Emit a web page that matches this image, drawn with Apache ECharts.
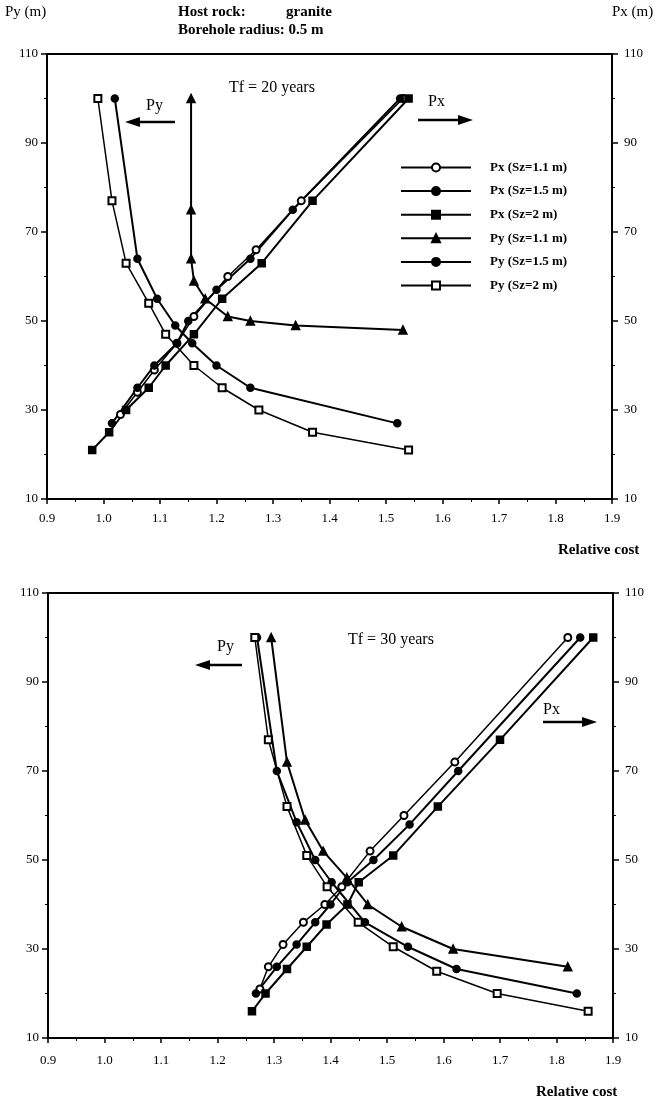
<!DOCTYPE html>
<html>
<head>
<meta charset="utf-8">
<script src="https://cdn.jsdelivr.net/npm/echarts@6/dist/echarts.min.js"></script>
<style>
  html, body { margin: 0; padding: 0; background: #fff; }
  #container { width: 664px; height: 1102px; }
</style>
</head>
<body>
<div id="container"></div>
<script>
// Tf = 20 years : [relative cost, distance (m)]
var px20_11 = [[1.03, 29], [1.06, 34], [1.09, 39], [1.13, 45], [1.16, 51], [1.22, 60], [1.27, 66], [1.35, 77], [1.53, 100]];
var px20_15 = [[1.015, 27], [1.06, 35], [1.09, 40], [1.13, 45], [1.15, 50], [1.20, 57], [1.26, 64], [1.335, 75], [1.525, 100]];
var px20_2 = [[0.98, 21], [1.01, 25], [1.04, 30], [1.08, 35], [1.11, 40], [1.16, 47], [1.21, 55], [1.28, 63], [1.37, 77], [1.54, 100]];
var py20_11 = [[1.155, 100], [1.155, 75], [1.155, 64], [1.16, 59], [1.18, 55], [1.22, 51], [1.26, 50], [1.34, 49], [1.53, 48]];
var py20_15 = [[1.02, 100], [1.06, 64], [1.095, 55], [1.127, 49], [1.157, 45], [1.20, 40], [1.26, 35], [1.52, 27]];
var py20_2 = [[0.99, 100], [1.015, 77], [1.04, 63], [1.08, 54], [1.11, 47], [1.16, 40], [1.21, 35], [1.275, 30], [1.37, 25], [1.54, 21]];

// Tf = 30 years
var px30_11 = [[1.275, 21], [1.29, 26], [1.316, 31], [1.352, 36], [1.39, 40], [1.42, 44], [1.47, 52], [1.53, 60], [1.62, 72], [1.82, 100]];
var px30_15 = [[1.268, 20], [1.305, 26], [1.34, 31], [1.373, 36], [1.40, 40], [1.43, 45], [1.476, 50], [1.54, 58], [1.626, 70], [1.842, 100]];
var px30_2 = [[1.261, 16], [1.285, 20], [1.323, 25.5], [1.358, 30.5], [1.393, 35.5], [1.43, 40], [1.45, 45], [1.511, 51], [1.59, 62], [1.70, 77], [1.865, 100]];
var py30_11 = [[1.295, 100], [1.323, 72], [1.355, 59], [1.387, 52], [1.429, 46], [1.466, 40], [1.526, 35], [1.617, 30], [1.82, 26]];
var py30_15 = [[1.27, 100], [1.305, 70], [1.34, 58.5], [1.373, 50], [1.402, 45], [1.461, 36], [1.537, 30.5], [1.623, 25.5], [1.836, 20]];
var py30_2 = [[1.266, 100], [1.29, 77], [1.323, 62], [1.358, 51], [1.394, 44], [1.449, 36], [1.511, 30.5], [1.588, 25], [1.695, 20], [1.856, 16]];

var seriesNames = ['Px (Sz=1.1 m)', 'Px (Sz=1.5 m)', 'Px (Sz=2 m)', 'Py (Sz=1.1 m)', 'Py (Sz=1.5 m)', 'Py (Sz=2 m)'];
var symbols = ['emptyCircle', 'circle', 'rect', 'triangle', 'circle', 'emptyRect'];
var widths = [1.5, 2, 2, 2, 2, 1.5];

var FONT = 'Liberation Serif';

var dom = document.getElementById('container');
var myChart = echarts.init(dom);

function makeSeries(i, data, grid) {
  var isPx = i < 3;
  return {
    name: seriesNames[i],
    type: 'line',
    xAxisIndex: grid,
    yAxisIndex: grid * 2 + (isPx ? 1 : 0),
    data: data,
    symbol: symbols[i],
    symbolSize: symbols[i] === 'triangle' ? 8 : 7,
    showAllSymbol: true,
    animation: false,
    lineStyle: { color: '#000', width: widths[i] },
    itemStyle: { color: '#000', borderColor: '#000', borderWidth: 1.5 },
    z: 3
  };
}

function xAxisFor(grid, margin) {
  return {
    gridIndex: grid,
    type: 'value',
    min: 0.9,
    max: 1.9,
    interval: 0.1,
    axisLine: { show: true, lineStyle: { color: '#000', width: 2 } },
    axisTick: { show: true, inside: false, length: 5, lineStyle: { color: '#000', width: 1.5 } },
    minorTick: { show: true, splitNumber: 2, length: 3, lineStyle: { color: '#000' } },
    splitLine: { show: false },
    axisLabel: {
      color: '#000', fontFamily: FONT, fontSize: 13, margin: margin,
      formatter: function (v) { return v.toFixed(1); }
    }
  };
}

function yAxisFor(grid, right) {
  return {
    gridIndex: grid,
    type: 'value',
    position: right ? 'right' : 'left',
    min: 10,
    max: 110,
    interval: 20,
    axisLine: { show: true, lineStyle: { color: '#000', width: 2 } },
    axisTick: { show: true, inside: false, length: 6, lineStyle: { color: '#000', width: 1.5 } },
    minorTick: { show: true, splitNumber: 2, length: 3, lineStyle: { color: '#000' } },
    splitLine: { show: false },
    axisLabel: { color: '#000', fontFamily: FONT, fontSize: 13, margin: right ? 12 : 9 }
  };
}

function arrow(x1, x2, y) {
  var dir = x2 > x1 ? 1 : -1;
  return {
    type: 'group',
    children: [
      { type: 'line', shape: { x1: x1, y1: y, x2: x2 - dir * 10, y2: y }, style: { stroke: '#000', lineWidth: 2.5 } },
      { type: 'polygon', shape: { points: [[x2, y], [x2 - dir * 15, y - 5], [x2 - dir * 15, y + 5]] }, style: { fill: '#000' } }
    ]
  };
}

// x, y = left edge and vertical centre of the text
function label(text, x, y, opts) {
  opts = opts || {};
  return {
    type: 'text',
    x: x,
    y: y,
    style: {
      text: text,
      fill: '#000',
      font: (opts.weight || 'normal') + ' ' + (opts.size || 15) + 'px "' + FONT + '"',
      align: 'left',
      verticalAlign: 'middle'
    }
  };
}

var series = [];
[px20_11, px20_15, px20_2, py20_11, py20_15, py20_2].forEach(function (d, i) { series.push(makeSeries(i, d, 0)); });
[px30_11, px30_15, px30_2, py30_11, py30_15, py30_2].forEach(function (d, i) { series.push(makeSeries(i, d, 1)); });

var option = {
  backgroundColor: '#fff',
  animation: false,
  grid: [
    { left: 47, right: 52, top: 54, height: 445, show: true, borderColor: '#000', borderWidth: 2 },
    { left: 48, right: 51, top: 593, height: 445, show: true, borderColor: '#000', borderWidth: 2 }
  ],
  legend: {
    data: seriesNames,
    orient: 'vertical',
    left: 395,
    top: 156,
    itemWidth: 70,
    itemHeight: 10,
    itemGap: 10.6,
    selectedMode: false,
    textStyle: { color: '#000', fontFamily: FONT, fontSize: 13, fontWeight: 'bold', lineHeight: 12, padding: [0, 0, 0, 14] }
  },
  xAxis: [xAxisFor(0, 13), xAxisFor(1, 16)],
  yAxis: [yAxisFor(0, false), yAxisFor(0, true), yAxisFor(1, false), yAxisFor(1, true)],
  series: series,
  graphic: [
    label('Py (m)', 5, 12, { size: 15 }),
    label('Px (m)', 612, 12, { size: 15 }),
    label('Host rock:', 178, 12, { size: 15, weight: 'bold' }),
    label('granite', 286, 12, { size: 15, weight: 'bold' }),
    label('Borehole radius: 0.5 m', 178, 30, { size: 15, weight: 'bold' }),
    label('Tf = 20 years', 229, 88, { size: 16 }),
    label('Py', 146, 106, { size: 16 }),
    arrow(175, 125, 122),
    label('Px', 428, 102, { size: 16 }),
    arrow(418, 473, 120),
    label('Relative cost', 558, 550, { size: 15, weight: 'bold' }),
    label('Tf = 30 years', 348, 640, { size: 16 }),
    label('Py', 217, 647, { size: 16 }),
    arrow(242, 195, 665),
    label('Px', 543, 710, { size: 16 }),
    arrow(543, 597, 722),
    label('Relative cost', 536, 1092, { size: 15, weight: 'bold' })
  ]
};

myChart.setOption(option);
window.onresize = function () {
  myChart.resize();
};
</script>
</body>
</html>
